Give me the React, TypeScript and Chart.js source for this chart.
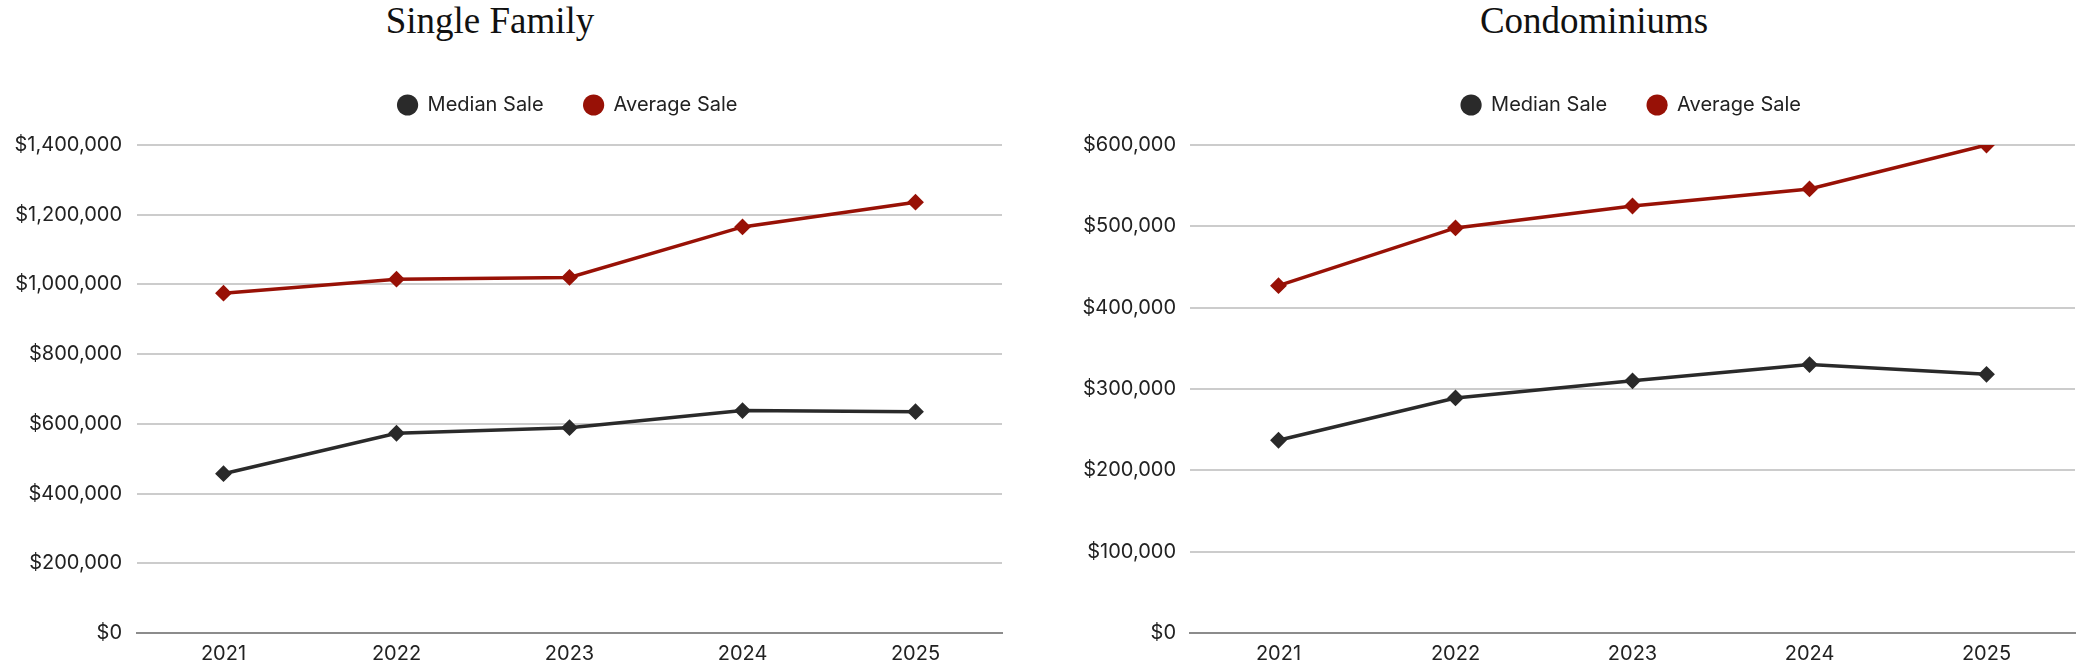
import React, { useEffect, useRef } from "react";
import { Chart, registerables } from "chart.js";

Chart.register(...registerables);

const categories = ["2021", "2022", "2023", "2024", "2025"];
const seriesNames = ["Median Sale", "Average Sale"];

const singleFamilyMedian = [457000, 573000, 589000, 638000, 635000];
const singleFamilyAverage = [975000, 1015000, 1020000, 1165000, 1236000];
const singleFamilyTicks = { max: 1400000, step: 200000 };

const condoMedian = [237000, 289000, 310000, 330000, 318000];
const condoAverage = [427000, 498000, 525000, 546000, 600000];
const condoTicks = { max: 600000, step: 100000 };

const MEDIAN_COLOR = "#2a2a2a";
const AVERAGE_COLOR = "#981106";
const FONT = "Inter, 'Noto Sans', sans-serif";
const CANVAS_H = 676;

function makeLegendPlugin(extraHeight: number, dx: number) {
  return {
    id: "legendTweak",
    beforeInit(chart: any) {
      const legend = chart.legend;
      if (!legend) return;
      const origFit = legend.fit;
      legend.fit = function fit() {
        origFit.call(this);
        this.height += extraHeight;
      };
    },
    afterLayout(chart: any) {
      const legend = chart.legend;
      if (!legend) return;
      legend.left += dx;
      legend.right += dx;
    },
  };
}

function fmt(v: number) {
  return "$" + Number(v).toLocaleString("en-US");
}

type Props = {
  median: number[];
  average: number[];
  ticks: { max: number; step: number };
  axisWidth: number;
  tickPad: number;
  legendShift: number;
  left: number;
  width: number;
};

function LineChart({ median, average, ticks, axisWidth, tickPad, legendShift, left, width }: Props) {
  const ref = useRef<HTMLCanvasElement | null>(null);
  useEffect(() => {
    if (!ref.current) return;
    const makeDs = (label: string, data: number[], color: string) => ({
      label,
      data,
      borderColor: color,
      backgroundColor: color,
      borderWidth: 3.5,
      pointStyle: "rectRot" as const,
      pointRadius: 7,
      pointHoverRadius: 7,
      pointBorderWidth: 2,
      pointBackgroundColor: color,
      pointBorderColor: color,
      tension: 0,
    });
    const chart = new Chart(ref.current, {
      type: "line",
      data: {
        labels: categories,
        datasets: [
          makeDs(seriesNames[0], median, MEDIAN_COLOR),
          makeDs(seriesNames[1], average, AVERAGE_COLOR),
        ],
      },
      plugins: [makeLegendPlugin(20, legendShift)],
      options: {
        animation: false,
        responsive: false,
        layout: { padding: { left: 0, right: 0, top: 55, bottom: 1 } },
        plugins: {
          title: { display: false },
          tooltip: { enabled: false },
          legend: {
            display: true,
            position: "top",
            align: "center",
            labels: {
              usePointStyle: true,
              pointStyle: "circle",
              boxWidth: 20,
              boxHeight: 15,
              padding: 40,
              color: "#222222",
              font: { family: FONT, size: 20 },
              generateLabels: (c: any) =>
                c.data.datasets.map((ds: any, i: number) => ({
                  text: ds.label,
                  fillStyle: ds.borderColor,
                  strokeStyle: ds.borderColor,
                  lineWidth: 0,
                  pointStyle: "circle",
                  hidden: false,
                  datasetIndex: i,
                  fontColor: "#222222",
                })),
            },
          },
        },
        scales: {
          x: {
            type: "category",
            offset: true,
            grid: { display: false, drawTicks: false },
            border: { display: true, color: "#8c8c8c", width: 2 },
            ticks: {
              color: "#222222",
              padding: 9,
              font: { family: FONT, size: 20 },
            },
          },
          y: {
            min: 0,
            max: ticks.max,
            afterFit: (scale: any) => {
              scale.width = axisWidth;
            },
            grid: { color: "#cccccc", lineWidth: 2, drawTicks: false },
            border: { display: false },
            ticks: {
              stepSize: ticks.step,
              padding: tickPad,
              color: "#222222",
              font: { family: FONT, size: 20 },
              callback: (v: any) => fmt(v),
            },
          },
        },
      },
    });
    return () => chart.destroy();
  }, []);
  return (
    <canvas
      ref={ref}
      width={width}
      height={CANVAS_H}
      style={{ position: "absolute", left, top: 0, width, height: CANVAS_H }}
    />
  );
}

const titleStyle = (center: number): React.CSSProperties => ({
  position: "absolute",
  left: center - 250,
  top: 2,
  width: 500,
  textAlign: "center",
  fontFamily: "'Liberation Serif', 'DejaVu Serif', serif",
  fontSize: 37,
  lineHeight: "37px",
  color: "#111111",
  whiteSpace: "nowrap",
});

export default function App() {
  return (
    <div
      style={{
        position: "fixed",
        left: 0,
        top: 0,
        width: 2078,
        height: 665,
        overflow: "hidden",
        background: "#ffffff",
      }}
    >
      <div style={titleStyle(490)}>Single Family</div>
      <div style={titleStyle(1594)}>Condominiums</div>
      <LineChart
        median={singleFamilyMedian}
        average={singleFamilyAverage}
        ticks={singleFamilyTicks}
        axisWidth={137}
        tickPad={15}
        legendShift={62}
        left={0}
        width={1011}
      />
      <LineChart
        median={condoMedian}
        average={condoAverage}
        ticks={condoTicks}
        axisWidth={160}
        tickPad={14}
        legendShift={74}
        left={1030}
        width={1054}
      />
    </div>
  );
}
